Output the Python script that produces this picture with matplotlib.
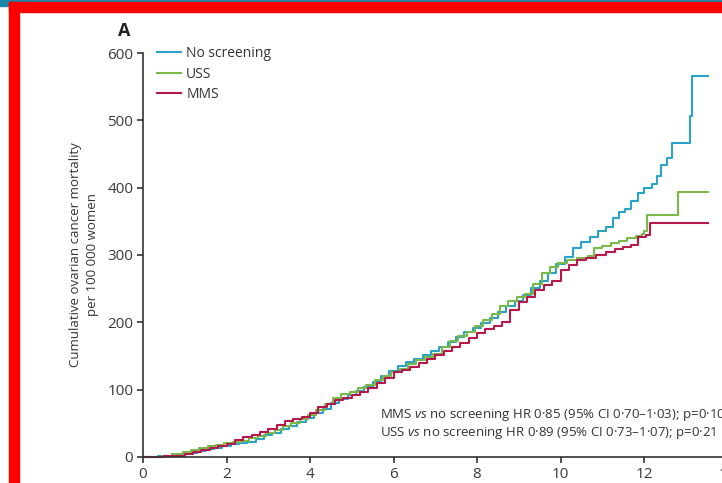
import matplotlib
matplotlib.use("Agg")
import matplotlib.pyplot as plt
from matplotlib.patches import Rectangle

# ---- data (years, cumulative deaths per 100 000) ----
t_none = [0, 0.35, 0.6, 0.85, 1.1, 1.3, 1.5, 1.7, 1.9, 2.1, 2.3, 2.5, 2.7, 2.9, 3.1, 3.3,
          3.5, 3.7, 3.9, 4.1, 4.3, 4.5, 4.7, 4.9, 5.1, 5.3, 5.5, 5.7, 5.9, 6.1, 6.3, 6.5,
          6.7, 6.9, 7.1, 7.3, 7.5, 7.7, 7.9, 8.1, 8.3, 8.5, 8.7, 8.9, 9.1, 9.3, 9.5, 9.7,
          9.9, 10.1, 10.3, 10.5, 10.7, 10.9, 11.1, 11.25, 11.4, 11.55, 11.7, 11.85, 12.0,
          12.2, 12.3, 12.4, 12.55, 12.66, 13.1, 13.15, 13.53]
v_none = [0, 1, 2, 4, 6, 9, 12, 14, 17, 19, 21, 23, 27, 32, 36, 41,
          46, 52, 58, 65, 72, 80, 86, 92, 98, 104, 112, 120, 128, 135, 141, 146,
          152, 158, 164, 171, 178, 185, 192, 199, 207, 216, 224, 232, 241, 251, 262, 274,
          286, 297, 310, 320, 327, 335, 342, 355, 364, 368, 380, 392, 400,
          406, 418, 434, 444, 466, 506, 566, 566]

t_uss = [0, 0.45, 0.7, 0.95, 1.15, 1.35, 1.55, 1.75, 1.95, 2.15, 2.35, 2.55, 2.75, 2.95,
         3.15, 3.35, 3.55, 3.75, 3.95, 4.15, 4.35, 4.55, 4.75, 4.95, 5.15, 5.35, 5.55,
         5.75, 5.95, 6.15, 6.35, 6.55, 6.75, 6.95, 7.15, 7.35, 7.55, 7.75, 7.95, 8.15,
         8.35, 8.55, 8.75, 8.95, 9.15, 9.35, 9.55, 9.75, 9.95, 10.15, 10.4, 10.65, 10.8,
         11.0, 11.2, 11.4, 11.6, 11.8, 11.95, 12.0, 12.07, 12.82, 13.53]
v_uss = [0, 2, 4, 7, 10, 14, 16, 18, 21, 22, 24, 28, 31, 35,
         40, 46, 51, 56, 63, 70, 78, 88, 93, 97, 102, 107, 114,
         120, 126, 131, 138, 144, 148, 153, 163, 173, 180, 186, 195, 203,
         212, 224, 232, 237, 242, 257, 274, 282, 288, 293, 295, 298, 310,
         314, 318, 321, 325, 328, 331, 336, 359, 394, 394]

t_mms = [0, 0.5, 0.75, 1.0, 1.2, 1.4, 1.6, 1.8, 2.0, 2.2, 2.4, 2.6, 2.8, 3.0, 3.2, 3.4,
         3.6, 3.8, 4.0, 4.2, 4.4, 4.6, 4.8, 5.0, 5.2, 5.4, 5.6, 5.8, 6.0, 6.2, 6.4, 6.6,
         6.8, 7.0, 7.2, 7.4, 7.6, 7.8, 8.0, 8.2, 8.4, 8.6, 8.8, 9.0, 9.2, 9.4, 9.6, 9.8,
         10.0, 10.2, 10.4, 10.6, 10.85, 11.1, 11.3, 11.5, 11.7, 11.85, 12.05, 12.14, 13.53]
v_mms = [0, 1, 2, 4, 7, 11, 14, 17, 20, 25, 30, 33, 37, 42, 47, 53,
         57, 60, 65, 75, 78, 85, 88, 92, 97, 102, 110, 118, 126, 129, 134, 140,
         146, 152, 157, 164, 170, 176, 184, 190, 195, 201, 218, 230, 238, 248, 256, 262,
         278, 285, 292, 296, 300, 305, 309, 312, 315, 327, 330, 347, 347]

series_names = ["No screening", "USS", "MMS"]
colors = ["#2aa3c9", "#7bb84a", "#b8174c"]

y_ticks = [0, 100, 200, 300, 400, 500, 600]
x_ticks = [0, 2, 4, 6, 8, 10, 12, 14]

notes = ["MMS $\\it{vs}$ no screening HR 0·85 (95% CI 0·70–1·03); p=0·10",
         "USS $\\it{vs}$ no screening HR 0·89 (95% CI 0·73–1·07); p=0·21"]

plt.rcParams['font.family'] = ['Open Sans', 'DejaVu Sans']
plt.rcParams['mathtext.fontset'] = 'custom'
plt.rcParams['mathtext.it'] = 'Open Sans:italic'

W, H = 722, 483
fig = plt.figure(figsize=(W / 100, H / 100), dpi=100)

# frame decoration (teal strip + red border)
teal = "#1888aa"
fig.patches.append(Rectangle((0, 1 - 2 / H), 1, 2 / H, transform=fig.transFigure, color=teal, zorder=0))
fig.patches.append(Rectangle((0, 1 - 6 / H), 9 / W, 6 / H, transform=fig.transFigure, color=teal, zorder=0))
fig.patches.append(Rectangle((9 / W, 0), 10 / W, 1 - 2 / H, transform=fig.transFigure, color="#ff0000", zorder=0))
fig.patches.append(Rectangle((9 / W, 1 - 12 / H), 1, 10 / H, transform=fig.transFigure, color="#ff0000", zorder=0))

px_per_year = 41.75
ax = fig.add_axes([143 / W, (H - 457) / H, 14.5 * px_per_year / W, (457 - 53) / H])

lines = []
for t, v, c, name in zip([t_none, t_uss, t_mms], [v_none, v_uss, v_mms], colors, series_names):
    ln, = ax.plot(t, v, drawstyle='steps-post', color=c, lw=1.5, label=name, clip_on=False)
    lines.append(ln)

ax.set_xlim(0, 14.5)
ax.set_ylim(0, 600)
ax.set_xticks(x_ticks)
ax.set_yticks(y_ticks)
for s in ['top', 'right']:
    ax.spines[s].set_visible(False)
for s in ['left', 'bottom']:
    ax.spines[s].set_color('#333333')
    ax.spines[s].set_linewidth(1.2)
ax.tick_params(axis='both', direction='out', length=4, width=1.2, color='#333333',
               labelcolor='#3a3a3a', labelsize=11, pad=3)

ax.set_ylabel("Cumulative ovarian cancer mortality\nper 100 000 women", fontsize=9.5,
              color='#333333', linespacing=1.4, labelpad=6)

fig.text(124 / W, 1 - 31 / H, "A", fontsize=13, fontweight='bold', ha='center', va='center', color='#222222')

ax.legend(handles=lines, loc='upper left', bbox_to_anchor=(157 / W, 1 - 46 / H),
          bbox_transform=fig.transFigure, frameon=False, fontsize=10, handlelength=1.7,
          handletextpad=0.4, labelspacing=0.4, borderpad=0, borderaxespad=0, labelcolor='#333333')

fig.text(380 / W, 1 - 415 / H, notes[0], fontsize=9.5, color='#333333', va='center', ha='left')
fig.text(380 / W, 1 - 433 / H, notes[1], fontsize=9.5, color='#333333', va='center', ha='left')

fig.savefig("out.png", dpi=100)
